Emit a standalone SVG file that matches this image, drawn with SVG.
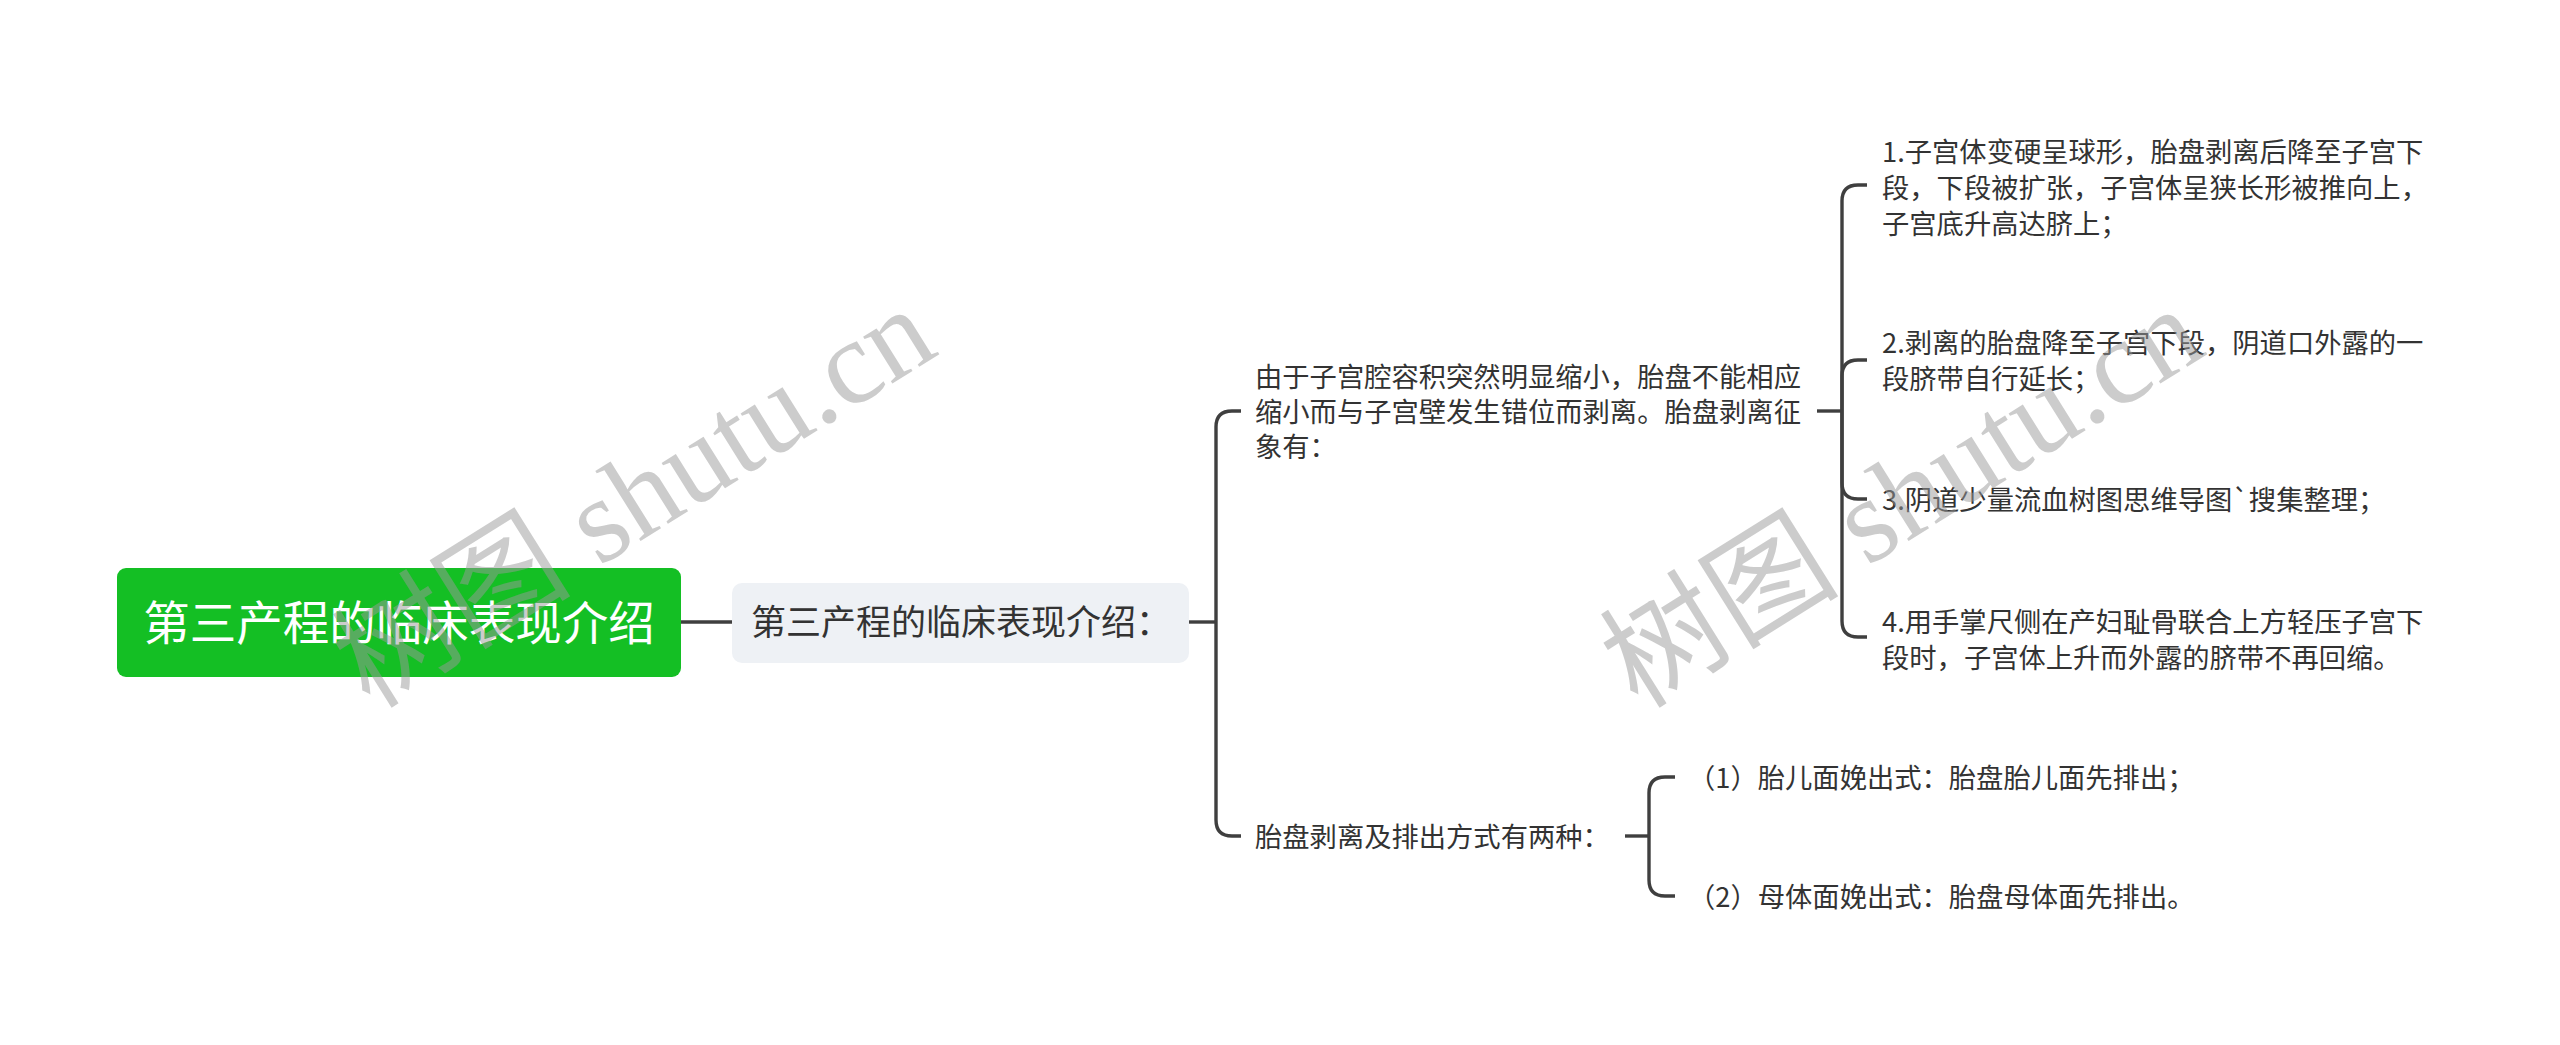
<svg xmlns="http://www.w3.org/2000/svg" width="2560" height="1045" viewBox="0 0 2560 1045">
<style>
.t{font-family:"Noto Sans CJK SC","Noto Sans",sans-serif;fill:#333333;}
.s{font-size:27.3px;}
.ln{fill:none;stroke:#3f3f3f;stroke-width:3.4;stroke-linecap:butt;}
.wm{font-family:"Liberation Serif","Noto Sans CJK SC",serif;font-size:120px;fill:#999999;fill-opacity:0.5;}
</style>
<rect x="0" y="0" width="2560" height="1045" fill="#ffffff"/>
<g id="connectors">
<path class="ln" d="M681,622 H732"/>
<path class="ln" d="M1189,622 H1216"/>
<path class="ln" d="M1216,622 V427 Q1216,411 1232,411 H1241"/>
<path class="ln" d="M1216,622 V820 Q1216,836 1232,836 H1241"/>
<path class="ln" d="M1817,411 H1842"/>
<path class="ln" d="M1842,411 V201 Q1842,185 1858,185 H1867"/>
<path class="ln" d="M1842,411 V376 Q1842,360 1858,360 H1867"/>
<path class="ln" d="M1842,411 V483 Q1842,499 1858,499 H1867"/>
<path class="ln" d="M1842,411 V621 Q1842,637 1858,637 H1867"/>
<path class="ln" d="M1625,836 H1649"/>
<path class="ln" d="M1649,836 V793 Q1649,777 1665,777 H1675"/>
<path class="ln" d="M1649,836 V880 Q1649,896 1665,896 H1675"/>
</g>
<g id="root">
<rect x="117" y="568" width="564" height="109" rx="9" fill="#14bf24"/>
<text class="t" x="399" y="639.5" font-size="46.5" text-anchor="middle" style="fill:#ffffff">第三产程的临床表现介绍</text>
</g>
<g id="n1">
<rect x="732" y="583" width="457" height="80" rx="10" fill="#eef1f5"/>
<text class="t" x="751" y="635" font-size="35">第三产程的临床表现介绍：</text>
</g>
<g id="n1-1">
<text class="t s" x="1255" y="386.5">由于子宫腔容积突然明显缩小，胎盘不能相应</text>
<text class="t s" x="1255" y="421.5">缩小而与子宫壁发生错位而剥离。胎盘剥离征</text>
<text class="t s" x="1255" y="456.5">象有：</text>
</g>
<g id="n1-1-1">
<text class="t s" x="1882" y="161.5">1.子宫体变硬呈球形，胎盘剥离后降至子宫下</text>
<text class="t s" x="1882" y="197.5">段，下段被扩张，子宫体呈狭长形被推向上，</text>
<text class="t s" x="1882" y="233.5">子宫底升高达脐上；</text>
</g>
<g id="n1-1-2">
<text class="t s" x="1882" y="352.5">2.剥离的胎盘降至子宫下段，阴道口外露的一</text>
<text class="t s" x="1882" y="388.5">段脐带自行延长；</text>
</g>
<g id="n1-1-3">
<text class="t s" x="1882" y="509.5">3.阴道少量流血树图思维导图`搜集整理；</text>
</g>
<g id="n1-1-4">
<text class="t s" x="1882" y="631.5">4.用手掌尺侧在产妇耻骨联合上方轻压子宫下</text>
<text class="t s" x="1882" y="667.5">段时，子宫体上升而外露的脐带不再回缩。</text>
</g>
<g id="n1-2">
<text class="t s" x="1255" y="846.5">胎盘剥离及排出方式有两种：</text>
</g>
<g id="n1-2-1">
<text class="t s" x="1688" y="787.5">（1）胎儿面娩出式：胎盘胎儿面先排出；</text>
</g>
<g id="n1-2-2">
<text class="t s" x="1688" y="906.5">（2）母体面娩出式：胎盘母体面先排出。</text>
</g>
<g id="watermark">
<text class="wm" x="0" y="0" transform="translate(370,710) rotate(-32)">树图 shutu.cn</text>
<text class="wm" x="0" y="0" transform="translate(1638,710) rotate(-32)">树图 shutu.cn</text>
</g>
</svg>
